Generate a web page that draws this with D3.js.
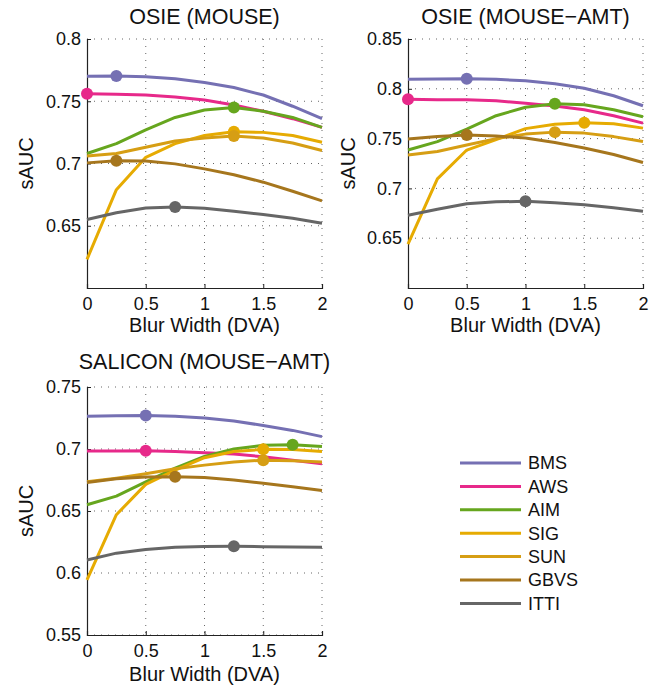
<!DOCTYPE html>
<html>
<head>
<meta charset="utf-8">
<script src="https://cdn.jsdelivr.net/npm/d3@7"></script>
<style>
  body { margin: 0; background: #fff; }
  text { font-family: "Liberation Sans", Arial, sans-serif; fill: #111; }
</style>
</head>
<body>
<div id="chart"></div>
<script>
var blur = [0, 0.25, 0.5, 0.75, 1, 1.25, 1.5, 1.75, 2];
var models = ["BMS", "AWS", "AIM", "SIG", "SUN", "GBVS", "ITTI"];
var colors = ["#7570b3", "#e7298a", "#66a61e", "#e6ab02", "#d69e14", "#a6761d", "#666666"];
var xTicks = [0, 0.5, 1, 1.5, 2];

// OSIE (MOUSE)
var osieMouse = [
  [0.770, 0.7702, 0.7697, 0.768, 0.765, 0.761, 0.755, 0.746, 0.736],
  [0.756, 0.7557, 0.755, 0.7535, 0.751, 0.747, 0.742, 0.736, 0.729],
  [0.708, 0.716, 0.727, 0.737, 0.743, 0.745, 0.742, 0.737, 0.729],
  [0.623, 0.679, 0.705, 0.716, 0.7225, 0.7255, 0.725, 0.7225, 0.717],
  [0.706, 0.708, 0.713, 0.718, 0.7205, 0.722, 0.7205, 0.7165, 0.7105],
  [0.7005, 0.7022, 0.702, 0.6997, 0.6957, 0.691, 0.685, 0.6777, 0.670],
  [0.655, 0.6605, 0.6642, 0.665, 0.664, 0.6616, 0.659, 0.656, 0.652]
];
var osieMouseTicks = [0.65, 0.7, 0.75, 0.8];

// OSIE (MOUSE-AMT)
var osieAmt = [
  [0.8095, 0.8098, 0.8102, 0.8095, 0.808, 0.805, 0.8005, 0.793, 0.783],
  [0.7895, 0.789, 0.789, 0.788, 0.7855, 0.7828, 0.779, 0.773, 0.7655],
  [0.7385, 0.747, 0.7595, 0.773, 0.7815, 0.785, 0.784, 0.779, 0.772],
  [0.644, 0.7095, 0.7385, 0.749, 0.760, 0.7645, 0.766, 0.765, 0.7605],
  [0.7335, 0.737, 0.7435, 0.750, 0.7545, 0.7565, 0.7555, 0.752, 0.747],
  [0.7495, 0.752, 0.7535, 0.7527, 0.7505, 0.746, 0.7405, 0.734, 0.726],
  [0.673, 0.679, 0.6845, 0.6865, 0.687, 0.6855, 0.6835, 0.6805, 0.677]
];
var osieAmtTicks = [0.65, 0.7, 0.75, 0.8, 0.85];

// SALICON (MOUSE-AMT)
var saliconAmt = [
  [0.7265, 0.7268, 0.727, 0.7265, 0.725, 0.7225, 0.719, 0.715, 0.71],
  [0.6983, 0.6984, 0.6986, 0.698, 0.697, 0.696, 0.6937, 0.691, 0.688],
  [0.655, 0.662, 0.6735, 0.6845, 0.694, 0.700, 0.703, 0.7035, 0.702],
  [0.5945, 0.647, 0.6715, 0.683, 0.693, 0.698, 0.6997, 0.6995, 0.698],
  [0.6735, 0.6765, 0.680, 0.684, 0.687, 0.6895, 0.691, 0.6905, 0.6895],
  [0.673, 0.676, 0.6775, 0.6777, 0.677, 0.675, 0.6723, 0.6695, 0.6665],
  [0.6105, 0.616, 0.619, 0.6208, 0.6213, 0.6215, 0.6212, 0.621, 0.6208]
];
var saliconAmtTicks = [0.55, 0.6, 0.65, 0.7, 0.75];

var svg = d3.select("#chart").append("svg")
  .attr("width", 655)
  .attr("height", 685);

var panels = [
  { title: "OSIE (MOUSE)", data: osieMouse, ticks: osieMouseTicks, ydom: [0.6, 0.8],
    left: 87, right: 322, top: 39, bottom: 288, titleY: 24, ylabX: 33, xlabY: 332 },
  { title: "OSIE (MOUSE\u2212AMT)", data: osieAmt, ticks: osieAmtTicks, ydom: [0.6, 0.85],
    left: 408, right: 643, top: 39, bottom: 288, titleY: 24, ylabX: 355, xlabY: 332 },
  { title: "SALICON (MOUSE\u2212AMT)", data: saliconAmt, ticks: saliconAmtTicks, ydom: [0.55, 0.75],
    left: 87, right: 322, top: 387, bottom: 635, titleY: 369, ylabX: 33, xlabY: 681 }
];

panels.forEach(function(p) {
  var x = d3.scaleLinear().domain([0, 2]).range([p.left, p.right]);
  var y = d3.scaleLinear().domain(p.ydom).range([p.bottom, p.top]);
  var g = svg.append("g");

  // dotted grid
  g.selectAll(".gx").data(xTicks.slice(1)).enter().append("line")
    .attr("x1", d => x(d)).attr("x2", d => x(d))
    .attr("y1", p.top).attr("y2", p.bottom)
    .attr("stroke", "#666").attr("stroke-width", 1)
    .attr("stroke-dasharray", "1,6");
  g.selectAll(".gy").data(p.ticks).enter().append("line")
    .attr("x1", p.left).attr("x2", p.right)
    .attr("y1", d => y(d)).attr("y2", d => y(d))
    .attr("stroke", "#666").attr("stroke-width", 1)
    .attr("stroke-dasharray", "1,6");

  // axes
  var ax = g.append("g").attr("transform", `translate(0,${p.bottom})`)
    .call(d3.axisBottom(x).tickValues(xTicks).tickSize(-4).tickPadding(9).tickFormat(d => String(d)));
  var ay = g.append("g").attr("transform", `translate(${p.left},0)`)
    .call(d3.axisLeft(y).tickValues(p.ticks).tickSize(-4).tickPadding(6).tickFormat(d => String(d)));
  [ax, ay].forEach(function(a) {
    a.select(".domain").attr("stroke", "#222").attr("stroke-width", 1.2);
    a.selectAll(".tick line").attr("stroke", "#222");
    a.selectAll(".tick text").attr("font-size", 18).attr("fill", "#111")
      .style("font-family", "'Liberation Sans', Arial, sans-serif");
  });

  // series
  var line = d3.line().x((d, i) => x(blur[i])).y(d => y(d));
  p.data.forEach(function(vals, k) {
    g.append("path").datum(vals)
      .attr("d", line)
      .attr("fill", "none")
      .attr("stroke", colors[k])
      .attr("stroke-width", 3)
      .attr("stroke-linejoin", "round");
  });
  p.data.forEach(function(vals, k) {
    var best = d3.maxIndex(vals);
    g.append("circle")
      .attr("cx", x(blur[best]))
      .attr("cy", y(vals[best]))
      .attr("r", 6)
      .attr("fill", colors[k]);
  });

  // labels
  g.append("text")
    .attr("x", (p.left + p.right) / 2).attr("y", p.titleY)
    .attr("text-anchor", "middle").attr("font-size", 21.5)
    .text(p.title);
  g.append("text")
    .attr("x", (p.left + p.right) / 2).attr("y", p.xlabY)
    .attr("text-anchor", "middle").attr("font-size", 20)
    .text("Blur Width (DVA)");
  g.append("text")
    .attr("transform", `translate(${p.ylabX},${(p.top + p.bottom) / 2}) rotate(-90)`)
    .attr("text-anchor", "middle").attr("font-size", 20)
    .text("sAUC");
});

// legend
var legend = svg.append("g");
var rows = legend.selectAll("g").data(models).enter().append("g")
  .attr("transform", (d, i) => `translate(460,${463 + i * 23.4})`);
rows.append("line")
  .attr("x1", 0).attr("x2", 61)
  .attr("stroke", (d, i) => colors[i])
  .attr("stroke-width", 3);
rows.append("text")
  .attr("x", 68).attr("dy", "0.36em")
  .attr("font-size", 18)
  .text(d => d);
</script>
</body>
</html>
